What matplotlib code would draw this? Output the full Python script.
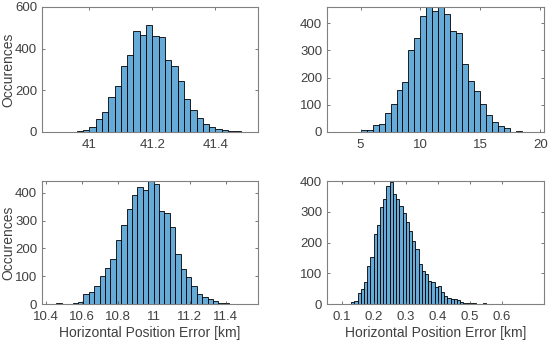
import numpy as np
import matplotlib
matplotlib.use("Agg")
import matplotlib.pyplot as plt

plt.rcParams['font.family'] = ['Liberation Sans', 'DejaVu Sans']

# bin left edges and counts
tl_start, tl_width = 40.94, 0.02
tl_counts = [2, 5, 10, 25, 63, 95, 170, 221, 318, 371, 483, 465, 514, 461,
             454, 345, 315, 246, 159, 106, 69, 39, 24, 14, 8, 5, 3]

tr_start, tr_width = 5.0, 0.5
tr_counts = [6, 6, 25, 29, 69, 103, 153, 184, 300, 346, 427, 475, 445, 470,
             433, 370, 364, 249, 188, 150, 103, 64, 36, 21, 13, 0, 2]

bl_start, bl_width = 10.46, 0.03
bl_counts = [2, 0, 1, 2, 8, 37, 42, 63, 100, 128, 161, 229, 283, 342, 393,
             422, 411, 442, 430, 334, 326, 278, 181, 124, 98, 63, 37, 24,
             18, 10, 3, 2]

br_start, br_width = 0.13, 0.01
br_counts = [6, 10, 35, 48, 72, 125, 152, 229, 257, 315, 341, 384, 398, 357,
             342, 320, 296, 268, 238, 206, 178, 130, 108, 96, 74, 72, 55, 59,
             39, 26, 21, 17, 15, 12, 8, 4, 3, 2, 2, 1, 0, 3]

tl_xticks = [41, 41.2, 41.4]
tl_xlabels = ['41', '41.2', '41.4']
tr_xticks = [5, 10, 15, 20]
tr_xlabels = ['5', '10', '15', '20']
bl_xticks = [10.4, 10.6, 10.8, 11, 11.2, 11.4]
bl_xlabels = ['10.4', '10.6', '10.8', '11', '11.2', '11.4']
br_xticks = [0.1, 0.2, 0.3, 0.4, 0.5, 0.6]
br_xlabels = ['0.1', '0.2', '0.3', '0.4', '0.5', '0.6']

face = '#66aad7'
axcol = '#404040'

fig = plt.figure(figsize=(5.5, 3.43), dpi=100)

panels = [
    ([0.0764, 0.6152, 0.3927, 0.3644], tl_start, tl_width, tl_counts,
     (40.85, 41.535), (0, 600), [0, 200, 400, 600], tl_xticks, tl_xlabels, True, False),
    ([0.5945, 0.6152, 0.3945, 0.3644], tr_start, tr_width, tr_counts,
     (2.2, 20.3), (0, 460), [0, 100, 200, 300, 400], tr_xticks, tr_xlabels, False, False),
    ([0.0764, 0.1137, 0.3927, 0.3586], bl_start, bl_width, bl_counts,
     (10.38, 11.58), (0, 442), [0, 100, 200, 300, 400], bl_xticks, bl_xlabels, True, True),
    ([0.5945, 0.1137, 0.3945, 0.3586], br_start, br_width, br_counts,
     (0.054, 0.732), (0, 400), [0, 100, 200, 300, 400], br_xticks, br_xlabels, False, True),
]

for pos, start, width, counts, xl, yl, yt, xt, xlab, ylab_on, xlab_on in panels:
    ax = fig.add_axes(pos)
    lefts = start + width * np.arange(len(counts))
    ax.bar(lefts, counts, width=width, align='edge', color=face,
           edgecolor='black', linewidth=0.6)
    ax.set_xlim(*xl)
    ax.set_ylim(*yl)
    ax.set_xticks(xt)
    ax.set_xticklabels(xlab)
    ax.set_yticks(yt)
    ax.tick_params(direction='in', length=2.5, width=0.5, colors=axcol,
                   labelsize=9.5, top=True, right=True)
    ax.tick_params(axis='x', pad=5)
    ax.tick_params(axis='y', pad=3.5)
    for s in ax.spines.values():
        s.set_color('#808080')
        s.set_linewidth(0.8)
    if ylab_on:
        fig.text(8 / 550, pos[1] + pos[3] / 2, 'Occurences', rotation=90,
                 ha='center', va='center', fontsize=10, color=axcol)
    if xlab_on:
        ax.set_xlabel('Horizontal Position Error [km]', fontsize=10,
                      color=axcol, labelpad=2)

fig.savefig('out.png', dpi=100)
